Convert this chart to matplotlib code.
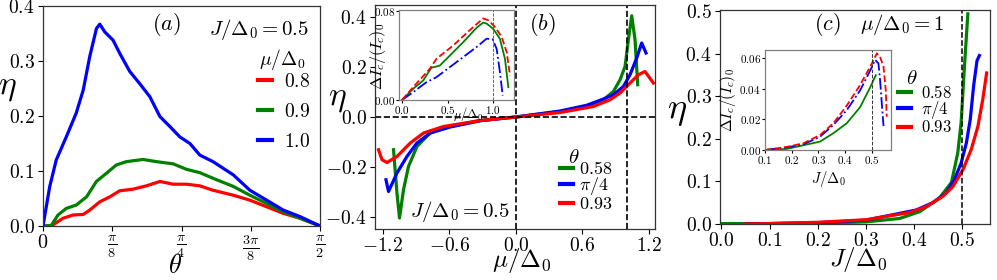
import numpy as np
import matplotlib
matplotlib.use("Agg")
import matplotlib.pyplot as plt
from matplotlib.ticker import FuncFormatter, FixedLocator
from matplotlib.legend import Legend

plt.rcParams['mathtext.fontset'] = 'cm'
plt.rcParams['font.family'] = ['DejaVu Serif']

# ---------------- panel (a): eta vs theta, J/D0 = 0.5 ----------------
a_theta_10 = [0, 0.038, 0.075, 0.132, 0.188, 0.228, 0.265, 0.303, 0.322, 0.350, 0.397, 0.435,
              0.492, 0.548, 0.606, 0.663, 0.719, 0.776, 0.833, 0.889, 0.964, 1.079, 1.173,
              1.268, 1.362, 1.458, 1.571]
a_eta_10 = [0, 0.0715, 0.120, 0.162, 0.205, 0.247, 0.308, 0.359, 0.367, 0.353, 0.338, 0.314,
            0.281, 0.259, 0.235, 0.199, 0.181, 0.162, 0.150, 0.129, 0.117, 0.093, 0.065,
            0.047, 0.029, 0.017, 0]
a_theta_09 = [0, 0.047, 0.085, 0.132, 0.188, 0.247, 0.303, 0.360, 0.416, 0.473, 0.567, 0.644,
              0.738, 0.814, 0.889, 0.985, 1.079, 1.173, 1.268, 1.362, 1.458, 1.571]
a_eta_09 = [0, 0.001, 0.020, 0.032, 0.038, 0.053, 0.081, 0.096, 0.111, 0.117, 0.121, 0.117,
            0.113, 0.103, 0.097, 0.084, 0.072, 0.056, 0.041, 0.026, 0.014, 0]
a_theta_08 = [0, 0.047, 0.113, 0.170, 0.228, 0.265, 0.322, 0.379, 0.435, 0.511, 0.586, 0.663,
              0.738, 0.814, 0.889, 0.964, 1.079, 1.173, 1.268, 1.362, 1.458, 1.571]
a_eta_08 = [0, 0, 0.014, 0.020, 0.021, 0.029, 0.044, 0.053, 0.064, 0.067, 0.073, 0.081,
            0.076, 0.076, 0.073, 0.065, 0.056, 0.047, 0.035, 0.023, 0.014, 0]
a_labels = ['0.8', '0.9', '1.0']
a_xtick_labels = [r'$0$', r'$\frac{\pi}{8}$', r'$\frac{\pi}{4}$', r'$\frac{3\pi}{8}$', r'$\frac{\pi}{2}$']

# ---------------- panel (b): eta vs mu/D0 ----------------
b_mu_058 = [-1.103, -1.072, -1.049, -1.013, -0.968, -0.892, -0.772, -0.592, -0.32, 0.0, 0.40,
            0.64, 0.79, 0.88, 0.94, 0.985, 1.015, 1.045, 1.075, 1.099]
b_eta_058 = [-0.131, -0.304, -0.404, -0.291, -0.198, -0.118, -0.064, -0.038, -0.014, 0.0, 0.022,
             0.045, 0.069, 0.102, 0.149, 0.202, 0.309, 0.405, 0.309, 0.129]
b_mu_pi4 = [-1.171, -1.148, -1.072, -0.982, -0.892, -0.772, -0.592, -0.32, 0.0, 0.40, 0.64,
            0.79, 0.88, 0.97, 1.03, 1.09, 1.135, 1.174]
b_eta_pi4 = [-0.251, -0.298, -0.224, -0.158, -0.104, -0.064, -0.040, -0.015, 0.0, 0.024, 0.047,
             0.072, 0.089, 0.122, 0.169, 0.236, 0.296, 0.256]
b_mu_093 = [-1.238, -1.207, -1.162, -1.072, -0.952, -0.832, -0.652, -0.32, 0.0, 0.40, 0.70,
            0.85, 0.94, 1.03, 1.105, 1.165, 1.24]
b_eta_093 = [-0.131, -0.171, -0.182, -0.158, -0.104, -0.064, -0.038, -0.014, 0.0, 0.018, 0.042,
             0.069, 0.096, 0.136, 0.169, 0.182, 0.136]
theta_labels = ['0.58', r'\pi/4', '0.93']

# inset (b): Delta Ic / (Ic)0 vs mu/D0
bi_mu_058 = [0, 0.121, 0.231, 0.322, 0.414, 0.524, 0.670, 0.817, 0.89, 0.927, 1.0, 1.073, 1.128, 1.165]
bi_val_058 = [0, 0.010, 0.0175, 0.029, 0.031, 0.040, 0.052, 0.065, 0.0697, 0.0688, 0.064, 0.055, 0.037, 0.0115]
bi_mu_pi4 = [0, 0.121, 0.267, 0.377, 0.524, 0.67, 0.817, 0.927, 0.993, 1.037, 1.073, 1.103]
bi_val_pi4 = [0, 0.007, 0.016, 0.0205, 0.0296, 0.0386, 0.0477, 0.0552, 0.0546, 0.046, 0.025, 0.004]
bi_mu_093 = [0, 0.121, 0.304, 0.377, 0.56, 0.744, 0.89, 0.945, 1.018, 1.092, 1.147, 1.183]
bi_val_093 = [0, 0.0115, 0.028, 0.037, 0.049, 0.063, 0.0734, 0.0718, 0.0658, 0.0568, 0.043, 0.022]

# ---------------- panel (c): eta vs J/D0, mu/D0 = 1 ----------------
c_J_058 = [0.0, 0.1, 0.2, 0.3, 0.37, 0.412, 0.453, 0.478, 0.491, 0.498, 0.505, 0.512]
c_eta_058 = [0.001, 0.001, 0.002, 0.005, 0.013, 0.029, 0.061, 0.098, 0.167, 0.238, 0.372, 0.494]
c_J_pi4 = [0.05, 0.1, 0.2, 0.3, 0.405, 0.439, 0.467, 0.484, 0.498, 0.509, 0.517, 0.524, 0.531, 0.536]
c_eta_pi4 = [0.0, 0.001, 0.003, 0.009, 0.033, 0.050, 0.073, 0.104, 0.143, 0.191, 0.246, 0.325, 0.384, 0.396]
c_J_093 = [0.05, 0.1, 0.2, 0.3, 0.391, 0.426, 0.46, 0.481, 0.502, 0.519, 0.533, 0.543, 0.551]
c_eta_093 = [0.0, 0.001, 0.004, 0.010, 0.027, 0.041, 0.065, 0.088, 0.128, 0.175, 0.230, 0.293, 0.355]

# inset (c)
ci_J_058 = [0.1, 0.181, 0.306, 0.356, 0.406, 0.456, 0.494, 0.515]
ci_val_058 = [0, 0.0007, 0.0055, 0.011, 0.0175, 0.028, 0.041, 0.049]
ci_J_pi4 = [0.1, 0.181, 0.244, 0.306, 0.356, 0.406, 0.456, 0.494, 0.5125, 0.525, 0.531, 0.5375, 0.544]
ci_val_pi4 = [0, 0.0017, 0.0037, 0.0087, 0.0164, 0.026, 0.039, 0.052, 0.059, 0.0567, 0.046, 0.0305, 0.0157]
ci_J_093 = [0.1, 0.181, 0.244, 0.306, 0.356, 0.406, 0.456, 0.494, 0.519, 0.531, 0.544, 0.5525, 0.556]
ci_val_093 = [0, 0.002, 0.0044, 0.0098, 0.0175, 0.029, 0.0425, 0.0545, 0.0633, 0.061, 0.0545, 0.039, 0.0218]

W, H = 997, 280
fig = plt.figure(figsize=(W / 100, H / 100), dpi=100)


def box(x0, y0, x1, y1):
    return [x0 / W, 1 - y1 / H, (x1 - x0) / W, (y1 - y0) / H]


def mfmt(fmt):
    return FuncFormatter(lambda v, p: '$' + (fmt % v) + '$')


def style(ax, col='0.2'):
    for s in ax.spines.values():
        s.set_color(col)
        s.set_linewidth(0.9)


def labels_at(ax, xc, yc):
    ax.xaxis.label.set_va('center')
    ax.xaxis.set_label_coords(*xc)
    ax.yaxis.label.set_va('center')
    ax.yaxis.label.set_ha('center')
    ax.yaxis.set_label_coords(*yc)


def entry_legends(ax, lines, labels, x, ys, fs, hl, pad):
    # one legend box per entry so that each row sits at its own height
    for ln, lb, y in zip(lines, labels, ys):
        lg = Legend(ax, [ln], [lb], loc='center left', bbox_to_anchor=(x, y), frameon=False,
                    fontsize=fs, handlelength=hl, handletextpad=pad, borderpad=0,
                    borderaxespad=0)
        for l in lg.get_lines():
            l.set_linewidth(3)
        ax.add_artist(lg)


LW = 2.3
TFS = 14

# ---- (a) ----
ax = fig.add_axes(box(43, 6, 320, 226))
style(ax)
la = []
la += ax.plot(a_theta_08, a_eta_08, color='red', lw=LW)
la += ax.plot(a_theta_09, a_eta_09, color='green', lw=LW)
la += ax.plot(a_theta_10, a_eta_10, color='blue', lw=LW)
ax.set_xlim(0, np.pi / 2)
ax.set_ylim(0, 0.4)
ax.xaxis.set_major_locator(FixedLocator([0, np.pi / 8, np.pi / 4, 3 * np.pi / 8, np.pi / 2]))
ax.set_xticklabels(a_xtick_labels, fontsize=14.5)
ax.set_yticks([0, 0.1, 0.2, 0.3, 0.4])
ax.yaxis.set_major_formatter(mfmt('%.1f'))
ax.tick_params(axis='y', labelsize=TFS, pad=2.5)
ax.tick_params(axis='x', pad=1.5)
ax.set_xlabel(r'$\theta$', fontsize=19)
ax.set_ylabel(r'$\eta$', fontsize=24, rotation=0)
labels_at(ax, (0.477, -0.18), (-0.128, 0.63))
ax.text(0.444, 0.918, r'$(a)$', transform=ax.transAxes, fontsize=16, ha='center', va='center')
ax.text(0.78, 0.895, r'$J/\Delta_0=0.5$', transform=ax.transAxes, fontsize=15, ha='center', va='center')
ax.text(0.863, 0.759, r'$\mu/\Delta_0$', transform=ax.transAxes, fontsize=14, ha='center', va='center')
entry_legends(ax, la, ['$' + s + '$' for s in a_labels], 0.776, [0.655, 0.518, 0.382], 14, 0.72, 0.6)

# ---- (b) ----
bx = fig.add_axes(box(375, 5, 655, 229))
style(bx)
lb = []
lb += bx.plot(b_mu_058, b_eta_058, color='green', lw=LW)
lb += bx.plot(b_mu_pi4, b_eta_pi4, color='blue', lw=LW)
lb += bx.plot(b_mu_093, b_eta_093, color='red', lw=LW)
bx.axhline(0, color='black', ls='--', lw=1.2)
bx.axvline(0, color='black', ls='--', lw=1.2)
bx.axvline(1.0, color='black', ls='--', lw=1.2)
bx.set_xlim(-1.27, 1.255)
bx.set_ylim(-0.448, 0.448)
bx.set_xticks([-1.2, -0.6, 0.0, 0.6, 1.2])
bx.set_yticks([-0.4, -0.2, 0.0, 0.2, 0.4])
bx.xaxis.set_major_formatter(mfmt('%.1f'))
bx.yaxis.set_major_formatter(mfmt('%.1f'))
bx.tick_params(labelsize=TFS, pad=2.5)
bx.set_xlabel(r'$\mu/\Delta_0$', fontsize=18)
bx.set_ylabel(r'$\eta$', fontsize=24, rotation=0)
labels_at(bx, (0.525, -0.14), (-0.136, 0.585))
bx.text(0.596, 0.915, r'$(b)$', transform=bx.transAxes, fontsize=16, ha='center', va='center')
bx.text(0.304, 0.076, r'$J/\Delta_0=0.5$', transform=bx.transAxes, fontsize=15, ha='center', va='center')
bx.text(0.711, 0.32, r'$\theta$', transform=bx.transAxes, fontsize=15, ha='center', va='center')
entry_legends(bx, lb, ['$' + s + '$' for s in theta_labels], 0.661, [0.268, 0.192, 0.112], 13, 0.7, 0.35)

# inset (b)
bi = fig.add_axes(box(399, 10, 514, 100))
style(bi, '0.5')
bi.plot(bi_mu_058, bi_val_058, color='green', lw=1.3, ls='-')
bi.plot(bi_mu_pi4, bi_val_pi4, color='blue', lw=1.3, ls='-.')
bi.plot(bi_mu_093, bi_val_093, color='red', lw=1.3, ls='--')
bi.axvline(1.0, color='0.3', ls='--', lw=0.6)
bi.set_xlim(-0.033, 1.227)
bi.set_ylim(0, 0.081)
bi.set_xticks([0.0, 0.5, 1.0])
bi.set_yticks([0.0, 0.08])
bi.xaxis.set_major_formatter(mfmt('%.1f'))
bi.yaxis.set_major_formatter(mfmt('%.2f'))
bi.tick_params(labelsize=8, length=2, pad=1)
bi.set_xlabel(r'$\mu/\Delta_0$', fontsize=9)
bi.xaxis.set_label_coords(0.6, -0.06)
bi.set_ylabel(r'$\Delta I_c/(I_c)_0$', fontsize=11.5)
bi.yaxis.set_label_coords(-0.1, 0.48)

# ---- (c) ----
cx = fig.add_axes(box(720, 10, 990, 224))
style(cx)
lc = []
lc += cx.plot(c_J_058, c_eta_058, color='green', lw=LW)
lc += cx.plot(c_J_pi4, c_eta_pi4, color='blue', lw=LW)
lc += cx.plot(c_J_093, c_eta_093, color='red', lw=LW)
cx.axvline(0.5, color='black', ls='--', lw=1.1)
cx.set_xlim(-0.003, 0.558)
cx.set_ylim(0, 0.503)
cx.set_xticks([0.0, 0.1, 0.2, 0.3, 0.4, 0.5])
cx.set_yticks([0.0, 0.1, 0.2, 0.3, 0.4, 0.5])
cx.xaxis.set_major_formatter(mfmt('%.1f'))
cx.yaxis.set_major_formatter(mfmt('%.1f'))
cx.tick_params(labelsize=TFS, pad=2.5)
cx.set_xlabel(r'$J/\Delta_0$', fontsize=18)
cx.set_ylabel(r'$\eta$', fontsize=26, rotation=0)
labels_at(cx, (0.51, -0.168), (-0.158, 0.53))
cx.text(0.396, 0.93, r'$(c)$', transform=cx.transAxes, fontsize=16, ha='center', va='center')
cx.text(0.674, 0.93, r'$\mu/\Delta_0=1$', transform=cx.transAxes, fontsize=15, ha='center', va='center')
cx.text(0.711, 0.682, r'$\theta$', transform=cx.transAxes, fontsize=15, ha='center', va='center')
entry_legends(cx, lc, ['$' + s + '$' for s in theta_labels], 0.659, [0.612, 0.533, 0.449], 12, 0.8, 0.6)

# inset (c)
ci = fig.add_axes(box(765, 50, 891, 150))
style(ci, '0.5')
ci.plot(ci_J_058, ci_val_058, color='green', lw=1.3, ls='-')
ci.plot(ci_J_pi4, ci_val_pi4, color='blue', lw=1.3, ls='-.')
ci.plot(ci_J_093, ci_val_093, color='red', lw=1.3, ls='--')
ci.axvline(0.5, color='0.2', ls='--', lw=0.7)
ci.set_xlim(0.1, 0.572)
ci.set_ylim(0, 0.0655)
ci.set_xticks([0.1, 0.2, 0.3, 0.4, 0.5])
ci.set_yticks([0.0, 0.02, 0.04, 0.06])
ci.xaxis.set_major_formatter(mfmt('%.1f'))
ci.yaxis.set_major_formatter(mfmt('%.2f'))
ci.tick_params(labelsize=8, length=2, pad=1)
ci.set_xlabel(r'$J/\Delta_0$', fontsize=10.5, labelpad=2)
ci.set_ylabel(r'$\Delta I_c/(I_c)_0$', fontsize=11, labelpad=1)

fig.savefig('out.png', dpi=100)
